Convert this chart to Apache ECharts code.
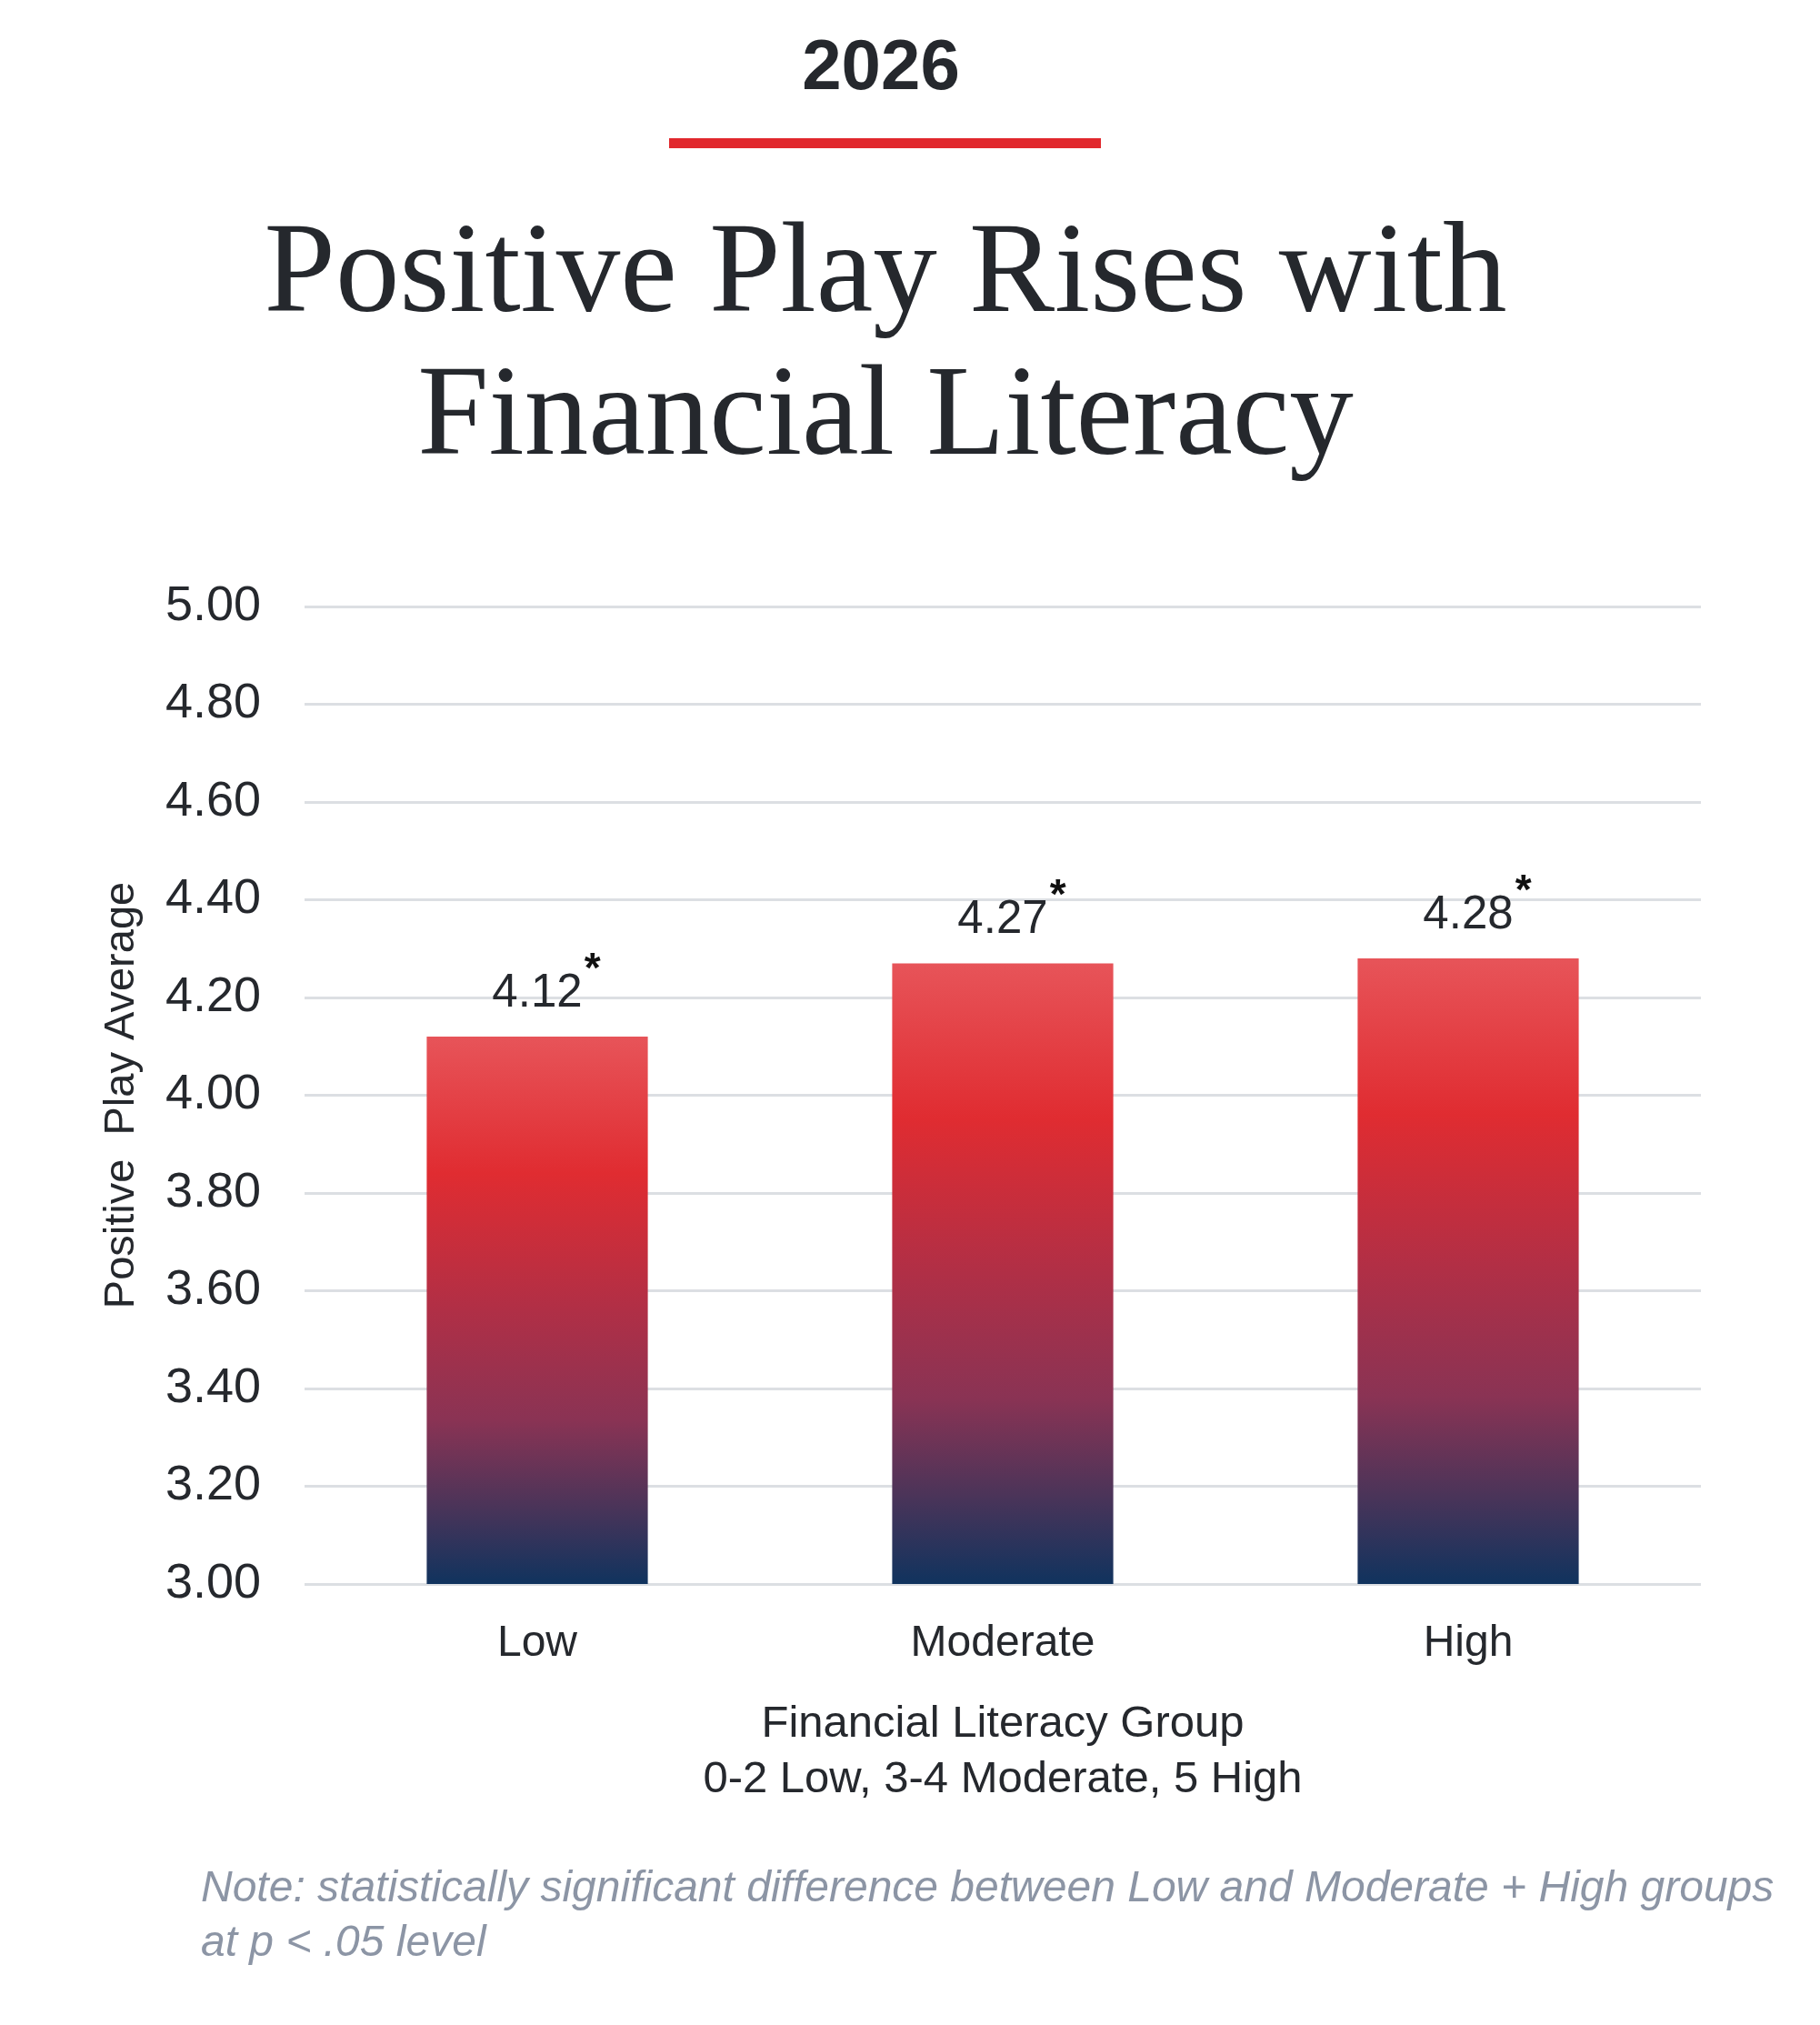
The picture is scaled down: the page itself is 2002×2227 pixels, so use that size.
<!DOCTYPE html>
<html>
<head>
<meta charset="utf-8">
<script src="https://cdn.jsdelivr.net/npm/echarts@6/dist/echarts.min.js"></script>
<style>
  html, body { margin: 0; padding: 0; background: #ffffff; }
  #chart { width: 2002px; height: 2227px; }
</style>
</head>
<body>
<div id="chart"></div>
<script>
(function() {
  'use strict';

  var categories = ['Low', 'Moderate', 'High'];
  var averages = [4.12, 4.27, 4.28];
  var marks = ['*', '*', '*'];
  var yTicks = { min: 3, max: 5, step: 0.2 };

  var colorText = '#25282d';
  var colorGrid = '#dcdfe3';
  var colorRed = '#e1282d';
  var colorNote = '#8c95a5';
  var sans = '"Liberation Sans", Arial, sans-serif';
  var serif = '"Liberation Serif", "Times New Roman", serif';

  var barGradient = new echarts.graphic.LinearGradient(0, 0, 0, 1, [
    { offset: 0, color: '#e75459' },
    { offset: 0.25, color: '#e02c31' },
    { offset: 0.5, color: '#b02f46' },
    { offset: 0.7, color: '#8a3354' },
    { offset: 0.86, color: '#4a3459' },
    { offset: 1, color: '#10335e' }
  ]);

  var chart = echarts.init(document.getElementById('chart'));
  chart.setOption({
    backgroundColor: '#ffffff',
    animation: false,
    title: [
      {
        text: '2026',
        left: 969,
        top: 36,
        padding: 0,
        textAlign: 'center',
        textStyle: { fontFamily: sans, fontSize: 78, fontWeight: 'bold', color: colorText, lineHeight: 80 }
      },
      {
        text: 'Positive Play Rises with\nFinancial Literacy',
        left: 974,
        top: 226,
        padding: 0,
        textAlign: 'center',
        textStyle: { fontFamily: serif, fontSize: 141, fontWeight: 'normal', color: colorText, lineHeight: 157 }
      }
    ],
    graphic: [
      {
        type: 'rect',
        left: 736,
        top: 152,
        shape: { width: 475, height: 11 },
        style: { fill: colorRed }
      },
      {
        type: 'text',
        left: 221,
        top: 2048,
        style: {
          text: 'Note: statistically significant difference between Low and Moderate + High groups\nat p < .05 level',
          fontFamily: sans,
          fontStyle: 'italic',
          fontSize: 48,
          lineHeight: 60,
          fill: colorNote
        }
      }
    ],
    grid: { left: 335, right: 131, top: 667, bottom: 485 },
    xAxis: {
      type: 'category',
      data: categories,
      axisLine: { show: false },
      axisTick: { show: false },
      axisLabel: { color: colorText, fontFamily: sans, fontSize: 48, margin: 42 },
      name: 'Financial Literacy Group\n0-2 Low, 3-4 Moderate, 5 High',
      nameLocation: 'middle',
      nameGap: 124,
      nameTextStyle: { color: colorText, fontFamily: sans, fontSize: 49, lineHeight: 61 }
    },
    yAxis: {
      type: 'value',
      min: yTicks.min,
      max: yTicks.max,
      interval: yTicks.step,
      axisLine: { show: false },
      axisTick: { show: false },
      splitLine: { lineStyle: { color: colorGrid, width: 3 } },
      axisLabel: {
        color: colorText, fontFamily: sans, fontSize: 54, margin: 48,
        formatter: function(v) { return v.toFixed(2); }
      },
      name: 'Positive  Play Average',
      nameLocation: 'middle',
      nameGap: 177,
      nameTextStyle: { color: colorText, fontFamily: sans, fontSize: 47 }
    },
    series: [
      {
        type: 'bar',
        data: averages,
        barWidth: '47.5%',
        itemStyle: { color: barGradient },
        label: {
          show: true,
          position: 'top',
          distance: 22,
          formatter: function(p) { return '{sp|}{v|' + p.value.toFixed(2) + '}{s|' + marks[p.dataIndex] + '}'; },
          rich: {
            sp: { width: 22 },
            v: { fontFamily: sans, fontSize: 51, color: colorText, lineHeight: 74, verticalAlign: 'bottom' },
            s: { fontFamily: sans, fontSize: 46, fontWeight: 'bold', color: '#111111', lineHeight: 20, verticalAlign: 'top', width: 22 }
          }
        }
      }
    ]
  });
})();
</script>
</body>
</html>
